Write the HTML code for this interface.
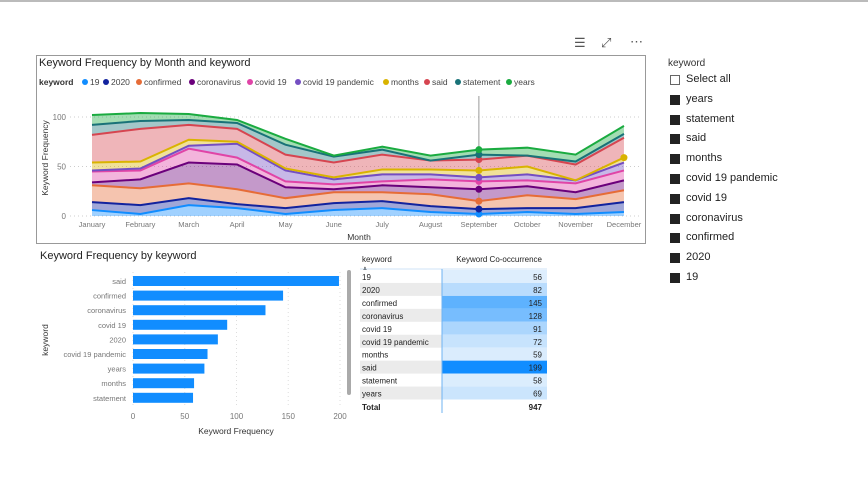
<!DOCTYPE html><html><head><meta charset="utf-8"><style>
body{margin:0;width:868px;height:489px;background:#fff;font-family:"Liberation Sans",sans-serif;position:relative;overflow:hidden}
.a{position:absolute;white-space:nowrap}
</style></head><body>
<div class="a" style="left:0;top:0;width:868px;height:2px;background:#bbb"></div>
<div class="a" style="left:574px;top:35px;font-size:13px;color:#555">☰</div>
<div class="a" style="left:601px;top:35px;font-size:13px;color:#555">⤢</div>
<div class="a" style="left:630px;top:34px;font-size:13px;color:#555">⋯</div>
<div class="a" style="left:36px;top:55px;width:608px;height:187px;border:1px solid #999"></div>
<svg class="a" style="left:0;top:0" width="868" height="489" id="s" font-family="Liberation Sans, sans-serif"></svg>
<div class="a" style="left:668px;top:58px;font-size:10px;color:#333">keyword</div>
<div id="lg"></div>
<script>
const s=document.getElementById('s');let h='';
h+='<text x="39" y="66" font-size="11" fill="#222">Keyword Frequency by Month and keyword</text>';
const names=['19','2020','confirmed','coronavirus','covid 19','covid 19 pandemic','months','said','statement','years'];
const cols=['#118DFF','#12239E','#E66C37','#6B007B','#E044A7','#744EC2','#D9B300','#D64550','#197278','#1AAB40'];
const LX=[82,103,136,189,247,295,383,424,455,506];
h+='<text x="39" y="85" font-size="8.5" font-weight="bold" fill="#333">keyword</text>';
names.forEach((n,i)=>{const lx=LX[i];h+=`<circle cx="${lx+3}" cy="82" r="3" fill="${cols[i]}"/><text x="${lx+8}" y="85" font-size="8.5" fill="#444">${n}</text>`;});
const D=[[6,2,11,8,2,6,8,4,2,4,2,4],[14,11,18,12,8,13,15,10,7,8,8,14],[31,28,33,27,18,24,24,22,15,21,17,26],[34,37,54,52,29,27,31,29,27,30,24,36],[45,46,68,59,35,32,35,37,35,36,33,46],[46,48,71,73,46,37,42,42,39,42,36,54],[54,55,77,75,48,39,47,47,46,50,36,59],[82,88,92,88,62,54,62,56,57,61,52,79],[92,96,97,94,72,60,67,56,62,61,55,83],[102,104,103,97,78,61,70,61,67,69,62,91]];
const X=i=>92+i*48.36,Y=v=>216-v*0.99;
[0,50,100].forEach(v=>{h+=`<line x1="70" x2="640" y1="${Y(v)}" y2="${Y(v)}" stroke="#ccc" stroke-dasharray="1,3"/><text x="66" y="${Y(v)+3}" font-size="8" fill="#777" text-anchor="end">${v}</text>`});
for(let k=9;k>=0;k--){const top=D[k],bot=k?D[k-1]:D[0].map(()=>0);
let p='M'+top.map((v,i)=>X(i)+','+Y(v)).join('L');for(let i=11;i>=0;i--)p+='L'+X(i)+','+Y(bot[i]);
h+=`<path d="${p}Z" fill="${cols[k]}" fill-opacity="0.4"/>`;}
for(let k=0;k<10;k++)h+=`<polyline points="${D[k].map((v,i)=>X(i)+','+Y(v)).join(' ')}" fill="none" stroke="${cols[k]}" stroke-width="2"/>`;
h+=`<line x1="${X(8)}" x2="${X(8)}" y1="96" y2="216" stroke="#999"/>`;
for(let k=0;k<10;k++)h+=`<circle cx="${X(8)}" cy="${Y(D[k][8])}" r="3.5" fill="${cols[k]}"/>`;
h+=`<circle cx="${X(11)}" cy="${Y(59)}" r="3.5" fill="#D9B300"/>`;
['January','February','March','April','May','June','July','August','September','October','November','December'].forEach((m,i)=>h+=`<text x="${X(i)}" y="227" font-size="7.5" fill="#777" text-anchor="middle">${m}</text>`);
h+='<text x="359" y="240" font-size="8.5" fill="#333" text-anchor="middle">Month</text>';
h+='<text transform="translate(48,158) rotate(-90)" font-size="8.5" fill="#333" text-anchor="middle">Keyword Frequency</text>';
h+='<text x="40" y="259" font-size="11" fill="#222">Keyword Frequency by keyword</text>';
[0,50,100,150,200].forEach(v=>{const x=133+v*1.035;h+=`<line x1="${x}" x2="${x}" y1="272" y2="405" stroke="#ddd" stroke-dasharray="1,3"/><text x="${x}" y="419" font-size="8" fill="#777" text-anchor="middle">${v}</text>`});
const B=[['said',199],['confirmed',145],['coronavirus',128],['covid 19',91],['2020',82],['covid 19 pandemic',72],['years',69],['months',59],['statement',58]];
B.forEach((b,i)=>{const y=276+i*14.6;h+=`<rect x="133" y="${y}" width="${b[1]*1.035}" height="10" fill="#118DFF"/><text x="126" y="${y+8}" font-size="7.5" fill="#777" text-anchor="end">${b[0]}</text>`});
h+='<text x="236" y="434" font-size="8.5" fill="#333" text-anchor="middle">Keyword Frequency</text>';
h+='<text transform="translate(48,340) rotate(-90)" font-size="8.5" fill="#333" text-anchor="middle">keyword</text>';
h+='<rect x="347" y="270" width="4" height="125" rx="2" fill="#aaa"/>';
h+='<text x="362" y="262" font-size="8" fill="#222">keyword</text><text x="542" y="262" font-size="8" fill="#222" text-anchor="end">Keyword Co-occurrence</text><text x="362" y="270" font-size="6" fill="#222">▲</text>';
h+='<line x1="360" x2="547" y1="269" y2="269" stroke="#cfe3f7"/>';
const T=[['19',56],['2020',82],['confirmed',145],['coronavirus',128],['covid 19',91],['covid 19 pandemic',72],['months',59],['said',199],['statement',58],['years',69]];
T.forEach((t,i)=>{const y=270+i*12.95;if(i%2)h+=`<rect x="360" y="${y}" width="82" height="12.95" fill="#ebebeb"/>`;
const f=(t[1]-56)/143;const c=`rgb(${Math.round(222-205*f)},${Math.round(238-97*f)},${Math.round(253+2*f)})`;
h+=`<rect x="442" y="${y}" width="105" height="12.95" fill="${c}"/><text x="362" y="${y+10}" font-size="8" fill="#222">${t[0]}</text><text x="542" y="${y+10}" font-size="8" fill="#222" text-anchor="end">${t[1]}</text>`});
h+='<line x1="442" x2="442" y1="269" y2="413" stroke="#6fb3f2"/>';
h+='<text x="362" y="410" font-size="8" font-weight="bold" fill="#222">Total</text><text x="542" y="410" font-size="8" font-weight="bold" fill="#222" text-anchor="end">947</text>';
s.innerHTML=h;
const L=['Select all','years','statement','said','months','covid 19 pandemic','covid 19','coronavirus','confirmed','2020','19'];
let g='';L.forEach((n,i)=>{const y=75+i*19.8;g+=`<div class="a" style="left:670px;top:${y}px;width:10px;height:10px;background:${i?'#222':'#fff'};border:${i?'0':'1px solid #666;width:8px;height:8px'}"></div><div class="a" style="left:686px;top:${y-2}px;font-size:11px;color:#222">${n}</div>`});
document.getElementById('lg').innerHTML=g;
</script></body></html>
